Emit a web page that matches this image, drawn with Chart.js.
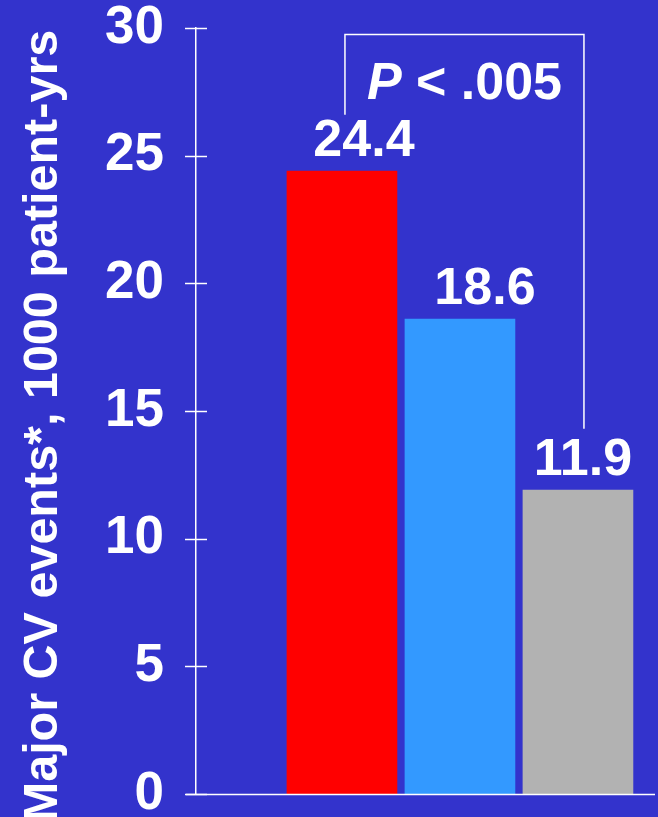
<!DOCTYPE html>
<html>
<head>
<meta charset="utf-8">
<script src="https://cdn.jsdelivr.net/npm/chart.js@4/dist/chart.umd.min.js"></script>
<style>
  html, body { margin: 0; padding: 0; background: #3333cc; }
  #wrap { width: 658px; height: 817px; position: relative; }
</style>
</head>
<body>
<div id="wrap"><canvas id="chart_cv_events"></canvas></div>
<script>
const EVENT_RATES = [24.4, 18.6, 11.9];
const BAR_COLORS = ["#ff0000", "#3399ff", "#b2b2b2"];
const Y_TICKS = [0, 5, 10, 15, 20, 25, 30];
const Y_TITLE = "Major CV events*, 1000 patient-yrs";
const P_LABEL = ["P", " < .005"];

const FONT = "'Liberation Sans', Arial, sans-serif";

// ticks that cross the axis, x axis line, bracket, value labels and the rotated title
const overlay = {
    id: "overlay",
    afterDraw(chart) {
        const ctx = chart.ctx;
        const y = chart.scales.y;
        const area = chart.chartArea;
        const meta = chart.getDatasetMeta(0);

        ctx.save();
        ctx.strokeStyle = "#ffffff";
        ctx.lineWidth = 1.5;

        Y_TICKS.forEach((t) => {
            const py = Math.round(y.getPixelForValue(t)) + 0.5;
            ctx.beginPath();
            ctx.moveTo(area.left - 11, py);
            ctx.lineTo(area.left + 11, py);
            ctx.stroke();
        });

        const base = Math.round(y.getPixelForValue(0)) + 0.5;
        ctx.beginPath();
        ctx.moveTo(area.left - 10, base);
        ctx.lineTo(area.right, base);
        ctx.stroke();

        // bracket between first and last bar
        const bx1 = meta.data[0].x + 3;
        const bx2 = meta.data[2].x + 6;
        const top = y.getPixelForValue(29.75);
        ctx.beginPath();
        ctx.moveTo(bx1, y.getPixelForValue(26.6));
        ctx.lineTo(bx1, top);
        ctx.lineTo(bx2, top);
        ctx.lineTo(bx2, y.getPixelForValue(14.3));
        ctx.stroke();

        ctx.fillStyle = "#ffffff";
        ctx.textBaseline = "alphabetic";

        // P value, italic P then bold rest, centred between the legs
        const fItalic = "italic bold 52px " + FONT;
        const fBold = "bold 52px " + FONT;
        ctx.font = fItalic;
        const w1 = ctx.measureText(P_LABEL[0]).width;
        ctx.font = fBold;
        const w2 = ctx.measureText(P_LABEL[1]).width;
        const px = (bx1 + bx2) / 2 - (w1 + w2) / 2;
        const pBase = y.getPixelForValue(27.2);
        ctx.textAlign = "left";
        ctx.font = fItalic;
        ctx.fillText(P_LABEL[0], px, pBase);
        ctx.font = fBold;
        ctx.fillText(P_LABEL[1], px + w1, pBase);

        // value labels above the bars
        const shift = chart.options.plugins.overlay.labelShift;
        ctx.textAlign = "center";
        ctx.font = fBold;
        meta.data.forEach((bar, i) => {
            ctx.fillText(EVENT_RATES[i].toFixed(1), bar.x + shift[i], bar.y - 15);
        });

        // rotated y axis title
        ctx.font = "bold 48.5px " + FONT;
        ctx.translate(44, 426);
        ctx.rotate(-Math.PI / 2);
        ctx.textBaseline = "middle";
        ctx.fillText(Y_TITLE, 0, 0);
        ctx.restore();
    },
};

const ctx = document.getElementById("chart_cv_events");
const cvChart = new Chart(ctx, {
    type: "bar",
    data: {
        datasets: [
            {
                data: EVENT_RATES.map((v, i) => ({ x: i, y: v })),
                backgroundColor: BAR_COLORS,
                borderWidth: 0,
                barThickness: 110,
            },
        ],
    },
    options: {
        responsive: true,
        maintainAspectRatio: false,
        animation: false,
        layout: {
            padding: { left: 0, top: 28, right: 3, bottom: 23 },
        },
        plugins: {
            legend: { display: false },
            tooltip: { enabled: false },
            overlay: { labelShift: [22, 25, 5] },
        },
        scales: {
            x: {
                type: "linear",
                display: false,
                offset: false,
                min: -1.237,
                max: 2.653,
            },
            y: {
                min: 0,
                max: 30,
                afterFit: (scale) => {
                    scale.width = 196;
                    scale.paddingTop = 0;
                    scale.paddingBottom = 0;
                },
                ticks: {
                    stepSize: 5,
                    color: "#ffffff",
                    padding: 24,
                    font: { family: FONT, size: 53, weight: "bold", lineHeight: 1 },
                },
                grid: { display: false },
                border: { display: true, color: "#ffffff", width: 1.5 },
            },
        },
    },
    plugins: [overlay],
});
</script>
</body>
</html>
